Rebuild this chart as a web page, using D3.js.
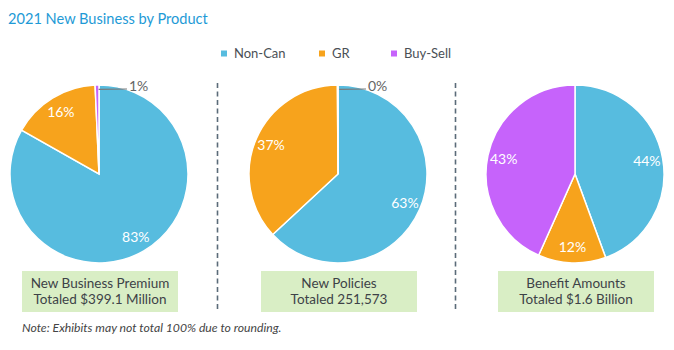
<!DOCTYPE html>
<html><head><meta charset="utf-8">
<script src="https://cdn.jsdelivr.net/npm/d3@7"></script>
<style>
html,body{margin:0;padding:0;background:#fff;}
svg{display:block;font-family:Lato,"Open Sans",sans-serif;}
</style></head>
<body>
<svg id="chart" width="674" height="350"></svg>
<script>
const categories = ["Non-Can", "GR", "Buy-Sell"];
const colors = ["#57bcdf", "#f7a31c", "#c663fb"];
const panelTitles = ["New Business Premium", "New Policies", "Benefit Amounts"];
const panelTotals = ["Totaled $399.1 Million", "Totaled 251,573", "Totaled $1.6 Billion"];
const nonCan = [83.2, 63.1, 44.4];
const gr = [16.1, 36.8, 12.3];
const buySell = [0.7, 0.1, 43.3];
const chartTitle = "2021 New Business by Product";
const note = "Note: Exhibits may not total 100% due to rounding.";

const svg = d3.select("#chart");

svg.append("text").attr("x", 8).attr("y", 24)
  .attr("font-size", 14.6).attr("fill", "#1e9ad6").text(chartTitle);

// legend
const legendX = d3.scaleOrdinal().domain(categories).range([221, 319, 391]);
const color = d3.scaleOrdinal().domain(categories).range(colors);
const lg = svg.append("g");
categories.forEach(c => {
  lg.append("rect").attr("x", legendX(c)).attr("y", 50.5).attr("width", 6).attr("height", 6).attr("fill", color(c));
  lg.append("text").attr("x", legendX(c) + 13).attr("y", 57.5).attr("font-size", 13).attr("fill", "#4a4f55").text(c);
});

const R = 89, cy = 174;
const cxScale = d3.scalePoint().domain(panelTitles).range([99, 575]);
const pie = d3.pie().sort(null).value(d => d.v);
const arc = d3.arc().innerRadius(0).outerRadius(R);
const labelArc = d3.arc().innerRadius(73).outerRadius(73);

panelTitles.forEach((t, i) => {
  const cx = cxScale(t) + (i === 1 ? 1 : 0);
  const data = [
    {k: categories[0], v: nonCan[i]},
    {k: categories[1], v: gr[i]},
    {k: categories[2], v: buySell[i]}
  ];
  const g = svg.append("g").attr("transform", `translate(${cx},${cy})`);
  const arcs = pie(data);
  g.selectAll("path").data(arcs).join("path")
    .attr("d", arc).attr("fill", d => color(d.data.k))
    .attr("stroke", "#fff").attr("stroke-width", 1.5);
  arcs.forEach(a => {
    const txt = Math.round(a.data.v) + "%";
    if (a.data.v >= 5) {
      const [x, y] = labelArc.centroid(a);
      g.append("text").attr("x", x).attr("y", y + 5).attr("text-anchor", "middle")
        .attr("font-size", 14).attr("fill", "#fff").text(txt);
    } else if (a.data.k === "Buy-Sell") {
      const m = (a.startAngle + a.endAngle) / 2;
      const r0 = R * 0.95;
      const sx = Math.sin(m) * r0 + 1.5, sy = -Math.cos(m) * r0;
      const ex = 28, ey = -R + 4;
      g.append("line").attr("x1", sx).attr("y1", sy).attr("x2", ex).attr("y2", ey)
        .attr("stroke", "#7a7a7a").attr("stroke-width", 1.2);
      g.append("text").attr("x", ex + 2).attr("y", ey + 1.5)
        .attr("font-size", 14).attr("fill", "#666").text(txt);
    }
  });
  // boxes
  const bx = cx + 1 - 78;
  svg.append("rect").attr("x", bx).attr("y", 271).attr("width", 156).attr("height", 41).attr("fill", "#d9eec5");
  svg.append("text").attr("x", bx + 78).attr("y", 288).attr("text-anchor", "middle")
    .attr("font-size", 13.5).attr("fill", "#3d4247").text(t);
  svg.append("text").attr("x", bx + 78).attr("y", 304).attr("text-anchor", "middle")
    .attr("font-size", 13.5).attr("fill", "#3d4247").text(panelTotals[i]);
});

// dashed separators
[217.5, 455.5].forEach(x => {
  svg.append("line").attr("x1", x).attr("x2", x).attr("y1", 83).attr("y2", 311)
    .attr("stroke", "#5b6b79").attr("stroke-width", 1.6).attr("stroke-dasharray", "5,3.5");
});

svg.append("text").attr("x", 22).attr("y", 332).attr("font-size", 12.2)
  .attr("font-style", "italic").attr("fill", "#444").text(note);
</script>
</body></html>
